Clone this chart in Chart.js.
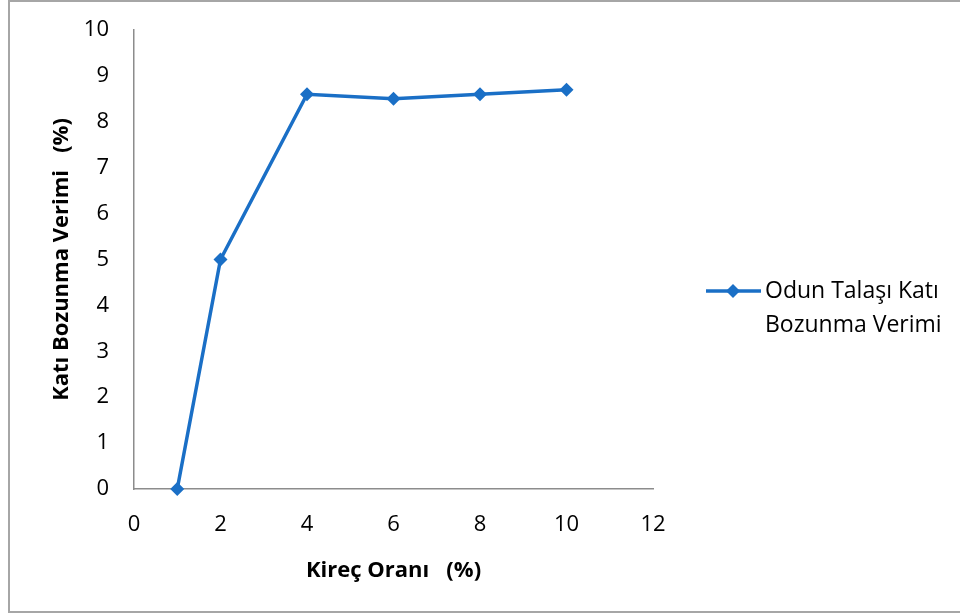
<!DOCTYPE html>
<html>
<head>
<meta charset="utf-8">
<script src="https://cdn.jsdelivr.net/npm/chart.js@4"></script>
<style>
  html, body { margin: 0; padding: 0; background: #fff; }
  #wrap { position: relative; width: 960px; height: 614px; }
  #frame { position: absolute; left: 8px; top: 0px; width: 960px; height: 613px; border: 2px solid #a6a6a6; box-sizing: border-box; pointer-events: none; }
  canvas { position: absolute; left: 0; top: 0; }
</style>
</head>
<body>
<div id="wrap">
  <canvas id="c" width="960" height="614"></canvas>
  <div id="frame"></div>
</div>
<script>
const limeRatio = [1, 2, 4, 6, 8, 10];
const yieldValues = [0, 5, 8.6, 8.5, 8.6, 8.7];
const seriesName = ["Odun Talaşı Katı", "Bozunma Verimi"];
const xTitle = "Kireç Oranı   (%)";
const yTitle = "Katı Bozunma Verimi   (%)";

const FONT = "'Open Sans', sans-serif";
const BLUE = "#1a6fc6";
const FS = 22;

const legendPlugin = {
  id: 'customLegend',
  afterDraw(chart) {
    const ctx = chart.ctx;
    ctx.save();
    const y0 = 291;
    ctx.strokeStyle = BLUE;
    ctx.lineWidth = 3.5;
    ctx.beginPath();
    ctx.moveTo(706, y0);
    ctx.lineTo(761, y0);
    ctx.stroke();
    ctx.fillStyle = BLUE;
    ctx.beginPath();
    const cx = 733, r = 7;
    ctx.moveTo(cx, y0 - r); ctx.lineTo(cx + r, y0); ctx.lineTo(cx, y0 + r); ctx.lineTo(cx - r, y0); ctx.closePath();
    ctx.fill();
    ctx.fillStyle = "#000";
    ctx.font = "23px " + FONT;
    ctx.textBaseline = "middle";
    ctx.textAlign = "left";
    ctx.fillText(seriesName[0], 765, y0);
    ctx.fillText(seriesName[1], 765, y0 + 34);
    ctx.restore();
  }
};

new Chart(document.getElementById('c'), {
  type: 'line',
  data: {
    datasets: [{
      label: seriesName.join(' '),
      data: limeRatio.map((x, i) => ({ x: x, y: yieldValues[i] })),
      borderColor: BLUE,
      backgroundColor: BLUE,
      borderWidth: 3.5,
      pointStyle: 'rectRot',
      pointRadius: 7,
      pointHoverRadius: 7,
      pointBorderWidth: 0,
      tension: 0,
      clip: false
    }]
  },
  options: {
    responsive: false,
    animation: false,
    events: [],
    layout: { padding: { left: 49, right: 307, top: 30, bottom: 30 } },
    plugins: { legend: { display: false }, tooltip: { enabled: false } },
    scales: {
      x: {
        type: 'linear', min: 0, max: 12,
        ticks: { stepSize: 2, color: '#000', font: { family: FONT, size: FS }, padding: 23 },
        grid: { display: false, drawTicks: false },
        border: { display: true, color: '#8c8c8c', width: 1.5 },
        title: { display: true, text: xTitle, color: '#000', font: { family: FONT, size: FS, weight: 'bold' }, padding: { top: 11, bottom: 0 } },
        afterFit(scale) { scale.height = 614 - 489 - 30; scale.paddingLeft = 0; scale.paddingRight = 0; }
      },
      y: {
        min: 0, max: 10,
        ticks: { stepSize: 1, color: '#000', font: { family: FONT, size: FS }, padding: 25 },
        grid: { display: false, drawTicks: false },
        border: { display: true, color: '#8c8c8c', width: 1.5 },
        title: { display: true, text: yTitle, color: '#000', font: { family: FONT, size: FS, weight: 'bold' }, padding: { top: 0, bottom: 10 } },
        afterFit(scale) { scale.width = 134 - 49; scale.paddingTop = 0; scale.paddingBottom = 0; }
      }
    }
  },
  plugins: [legendPlugin]
});
</script>
</body>
</html>
